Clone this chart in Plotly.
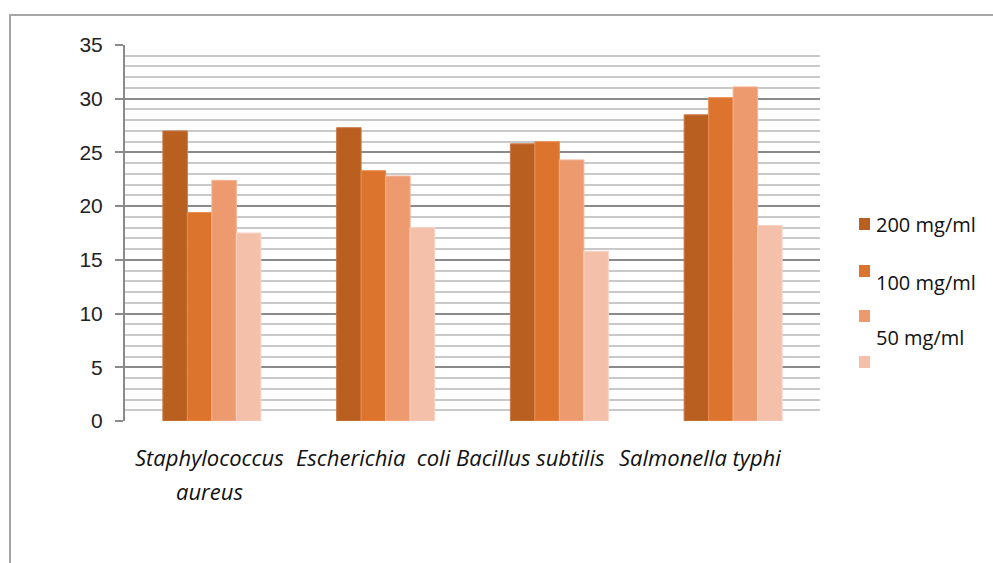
import plotly.graph_objects as go

# Inhibition zone (mm) by organism and extract concentration
organisms = ["Staphylococcus aureus", "Escherichia coli", "Bacillus subtilis", "Salmonella typhi"]
tick_text = ["Staphylococcus<br>aureus", "Escherichia  coli", "Bacillus subtilis", "Salmonella typhi"]
label_shift = [-2, -12, -29, -33]

series_names = ["200 mg/ml", "100 mg/ml", "50 mg/ml", ""]
conc_200 = [27.0, 27.3, 25.8, 28.5]
conc_100 = [19.4, 23.3, 26.0, 30.1]
conc_50 = [22.4, 22.8, 24.3, 31.1]
conc_25 = [17.5, 18.0, 15.8, 18.2]
series_values = [conc_200, conc_100, conc_50, conc_25]
colors = ["#B96021", "#DD742D", "#EE9A6F", "#F4C0AA"]
edge_colors = ["#C9784A", "#E98C55", "#F3B392", "#F8D3C4"]

y_ticks = [0, 5, 10, 15, 20, 25, 30, 35]

fig = go.Figure()
for name, vals, col, edge in zip(series_names, series_values, colors, edge_colors):
    fig.add_trace(go.Bar(
        x=organisms, y=vals, name=name,
        marker=dict(color=col, line=dict(color=edge, width=1)),
        showlegend=False,
    ))

fig.update_layout(
    width=993, height=563,
    margin=dict(l=125, r=173, t=45, b=142),
    paper_bgcolor="white", plot_bgcolor="white",
    barmode="group", bargap=0.436, bargroupgap=0,
    font=dict(family="Liberation Sans, Arial, sans-serif", color="#222"),
)

fig.update_xaxes(
    showticklabels=False, showgrid=False, zeroline=False,
    showline=False, ticks="",
)
fig.update_yaxes(
    range=[0, 35], tickvals=y_ticks, ticktext=[str(v) for v in y_ticks],
    tickfont=dict(size=21, family="Liberation Sans, Arial, sans-serif", color="#222"),
    ticks="outside", ticklen=8, tickcolor="#8a8a8a", tickwidth=2,
    ticklabelstandoff=8,
    showgrid=True, gridcolor="#8a8a8a", gridwidth=2,
    minor=dict(dtick=1, showgrid=True, gridcolor="#c9c9c9", gridwidth=2,
               ticks="", ticklen=0),
    showline=True, linecolor="#8a8a8a", linewidth=2,
    zeroline=False,
)

# category labels under the axis, one annotation per text line
line_step = 34
for org, txt, dx in zip(organisms, tick_text, label_shift):
    for i, line in enumerate(txt.split("<br>")):
        fig.add_annotation(
            x=org, y=0, xref="x", yref="y", yanchor="middle", xanchor="center",
            text=line, showarrow=False, xshift=dx, yshift=-36 - i * line_step,
            font=dict(family="Open Sans, sans-serif", size=22, color="#111", style="italic"),
        )

# legend swatches and labels
plot_w, plot_h = 695, 376
def px_x(px):
    return (px - 125) / plot_w
def px_y(py):
    return (421 - py) / plot_h

swatch_tops = [218, 265, 310, 356]
label_ys = [224, 282, 337, None]
for col, top, ly, name in zip(colors, swatch_tops, label_ys, series_names):
    fig.add_shape(type="rect", xref="paper", yref="paper",
                  x0=px_x(859), x1=px_x(870), y0=px_y(top + 12), y1=px_y(top),
                  fillcolor=col, line=dict(width=0))
    if ly is not None and name:
        fig.add_annotation(x=px_x(874), y=px_y(ly), xref="paper", yref="paper",
                           xanchor="left", yanchor="middle", text=name, showarrow=False,
                           font=dict(family="Open Sans, sans-serif", size=20, color="#111"))

# outer chart frame
fig.add_shape(type="rect", xref="paper", yref="paper",
              x0=px_x(10), x1=px_x(1010), y0=px_y(580), y1=px_y(15),
              line=dict(color="#a6a6a6", width=2), fillcolor="rgba(0,0,0,0)")

fig.write_html("out.html")
